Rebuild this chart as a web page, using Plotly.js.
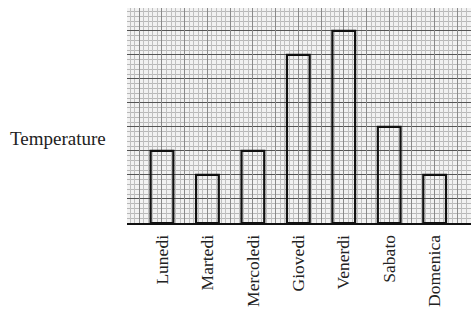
<!DOCTYPE html>
<html>
<head>
<meta charset="utf-8">
<script src="https://cdn.plot.ly/plotly-3.0.1.min.js"></script>
<style>html,body{margin:0;padding:0;background:#fff;}#chart{width:471px;height:313px;}</style>
</head>
<body>
<div id="chart"></div>
<script>
const days = ["Lunedi", "Martedi", "Mercoledi", "Giovedi", "Venerdi", "Sabato", "Domenica"];
const temperatures = [3, 2, 3, 7, 8, 4, 2];
const yTitle = "Temperature";

const xRange = [-0.77, 6.8];
const yRange = [0, 8.95];

const traces = [
  {
    type: "bar",
    x: days,
    y: temperatures,
    width: 0.5,
    marker: { color: "rgba(255,255,255,0)", line: { color: "#111", width: 2.2 } },
    hoverinfo: "x+y"
  },
  {
    type: "scatter",
    x: [xRange[0]],
    y: [0],
    xaxis: "x2",
    mode: "markers",
    marker: { opacity: 0 },
    hoverinfo: "skip",
    showlegend: false
  }
];

const layout = {
  width: 471,
  height: 313,
  margin: { l: 127, r: 0, t: 8, b: 90 },
  paper_bgcolor: "#ffffff",
  plot_bgcolor: "#f2f2f2",
  showlegend: false,
  font: { family: "Liberation Serif, Times New Roman, serif", size: 13, color: "#111" },
  xaxis: {
    type: "category",
    range: xRange,
    tickangle: -90,
    showgrid: false,
    showline: true,
    linecolor: "#111",
    linewidth: 2,
    ticks: "",
    ticklabelstandoff: 3,
    tickfont: { family: "Liberation Serif, serif", size: 17.5, color: "#222" },
    zeroline: false
  },
  xaxis2: {
    overlaying: "x",
    range: xRange,
    showticklabels: false,
    showgrid: true,
    gridcolor: "#8a8a8a",
    gridwidth: 1,
    dtick: 0.5,
    tick0: -0.5,
    minor: { dtick: 0.1, showgrid: true, gridcolor: "#c0c0c0", gridwidth: 1 },
    zeroline: false,
    layer: "below traces"
  },
  yaxis: {
    range: yRange,
    showticklabels: false,
    showgrid: true,
    gridcolor: "#555",
    gridwidth: 1,
    dtick: 1,
    minor: { dtick: 0.2, showgrid: true, gridcolor: "#b8b8b8", gridwidth: 1 },
    zeroline: false,
    ticks: ""
  },
  annotations: [
    {
      text: yTitle,
      xref: "paper",
      yref: "paper",
      x: -0.055,
      y: 0.395,
      xanchor: "right",
      yanchor: "middle",
      showarrow: false,
      font: { family: "Liberation Serif, serif", size: 19, color: "#222" }
    }
  ]
};

Plotly.newPlot("chart", traces, layout, { displayModeBar: false, staticPlot: true });
</script>
</body>
</html>
